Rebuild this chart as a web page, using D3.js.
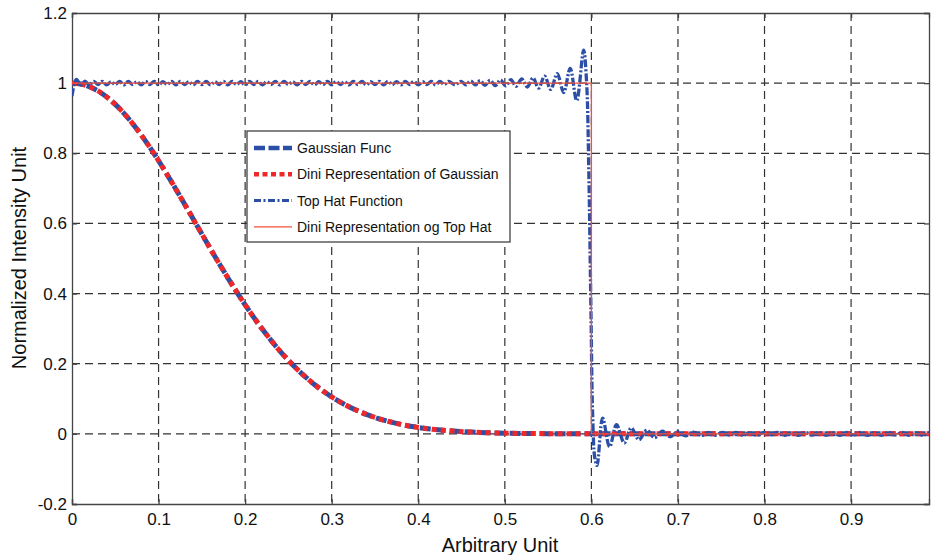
<!DOCTYPE html>
<html>
<head>
<meta charset="utf-8">
<script src="https://cdn.jsdelivr.net/npm/d3@7"></script>
<style>
  body { margin: 0; background: #fff; }
  text { font-family: "Liberation Sans", Arial, Helvetica, sans-serif; fill: #111; }
</style>
</head>
<body>
<div id="chart"></div>
<script>
// Gaussian (blue dashed + red dotted overlay)
let gaussX = [0, 0.01, 0.02, 0.03, 0.04, 0.05, 0.06, 0.07, 0.08, 0.09, 0.1, 0.11, 0.12, 0.13, 0.14, 0.15,
    0.16, 0.17, 0.18, 0.19, 0.2, 0.21, 0.22, 0.23, 0.24, 0.25, 0.26, 0.27, 0.28, 0.29, 0.3,
    0.32, 0.34, 0.36, 0.38, 0.4, 0.42, 0.44, 0.46, 0.48, 0.5, 0.55, 0.6, 0.7, 0.8, 0.9, 0.99];
let gaussY = [1, 0.9975, 0.99, 0.9778, 0.9608, 0.9394, 0.9139, 0.8847, 0.8521, 0.8167, 0.7788, 0.739,
    0.6977, 0.6554, 0.6126, 0.5698, 0.5273, 0.4855, 0.4449, 0.4056, 0.3679, 0.3321, 0.2982, 0.2665,
    0.2369, 0.2096, 0.1845, 0.1616, 0.1409, 0.1221, 0.1054, 0.0773, 0.0556, 0.0392, 0.0271, 0.0183,
    0.0122, 0.0079, 0.005, 0.0032, 0.0019, 0.0005, 0, 0, 0, 0, 0];
let diniGaussY = [1, 0.9975, 0.99, 0.9778, 0.9608, 0.9394, 0.9139, 0.8847, 0.8521, 0.8167, 0.7788, 0.739,
    0.6977, 0.6554, 0.6126, 0.5698, 0.5273, 0.4855, 0.4449, 0.4056, 0.3679, 0.3321, 0.2982, 0.2665,
    0.2369, 0.2096, 0.1845, 0.1616, 0.1409, 0.1221, 0.1054, 0.0773, 0.0556, 0.0392, 0.0271, 0.0183,
    0.0122, 0.0079, 0.005, 0.0032, 0.0019, 0.0005, 0, 0, 0, 0, 0];

// top hat function, with its ringing
let hatStartX = [0, 0.005, 0.0105];
let hatStartY = [0.963, 1.011, 0.995];
let hatFlatX = [0.015, 0.02, 0.025, 0.03, 0.035, 0.04, 0.045, 0.05, 0.055, 0.06, 0.065, 0.07, 0.075, 0.08,
    0.085, 0.09, 0.095, 0.1, 0.105, 0.11, 0.115, 0.12, 0.125, 0.13, 0.135, 0.14, 0.145, 0.15, 0.155, 0.16,
    0.165, 0.17, 0.175, 0.18, 0.185, 0.19, 0.195, 0.2, 0.205, 0.21, 0.215, 0.22, 0.225, 0.23, 0.235, 0.24,
    0.245, 0.25, 0.255, 0.26, 0.265, 0.27, 0.275, 0.28, 0.285, 0.29, 0.295, 0.3, 0.305, 0.31, 0.315, 0.32,
    0.325, 0.33, 0.335, 0.34, 0.345, 0.35, 0.355, 0.36, 0.365, 0.37, 0.375, 0.38, 0.385, 0.39, 0.395, 0.4,
    0.405, 0.41, 0.415, 0.42, 0.425, 0.43, 0.435];
let hatFlatY = [1.006, 0.995, 1.005, 0.996, 1.005, 0.995, 1.004, 0.996, 1.005, 0.995,
    1.005, 0.996, 1.004, 0.995, 1.005, 0.996, 1.005, 0.995, 1.004, 0.996,
    1.005, 0.995, 1.005, 0.996, 1.004, 0.995, 1.005, 0.996, 1.005, 0.995,
    1.004, 0.996, 1.005, 0.995, 1.005, 0.996, 1.004, 0.995, 1.005, 0.996,
    1.005, 0.995, 1.004, 0.996, 1.005, 0.995, 1.005, 0.996, 1.004, 0.995,
    1.005, 0.996, 1.005, 0.995, 1.004, 0.996, 1.005, 0.995, 1.005, 0.996,
    1.004, 0.995, 1.005, 0.996, 1.005, 0.995, 1.004, 0.996, 1.005, 0.995,
    1.005, 0.996, 1.004, 0.995, 1.005, 0.996, 1.005, 0.995, 1.004, 0.996,
    1.005, 0.995, 1.005, 0.996, 1.005];
let hatEdgeX = [0.4425, 0.4495, 0.455, 0.4605, 0.466, 0.4715, 0.477, 0.483, 0.489, 0.495, 0.501, 0.507,
    0.513, 0.5195, 0.526, 0.5325, 0.539, 0.546, 0.553, 0.5605, 0.568, 0.5755, 0.583, 0.591,
    0.5945, 0.597, 0.5995, 0.6015, 0.604, 0.6065];
let hatEdgeY = [0.995, 1.005, 0.995, 1.006, 0.995, 1.007, 0.994, 1.008, 0.993, 1.009, 0.992, 1.01,
    0.991, 1.012, 0.989, 1.015, 0.986, 1.02, 0.982, 1.027, 0.973, 1.042, 0.95, 1.094,
    1.0, 0.75, 0.35, 0.05, -0.07, -0.09];
let hatTailX = [0.613, 0.621, 0.629, 0.638, 0.646, 0.655, 0.664, 0.673, 0.682, 0.691, 0.7, 0.709, 0.718, 0.727,
    0.735, 0.743, 0.751, 0.759, 0.767, 0.775, 0.783, 0.791, 0.799, 0.807, 0.815, 0.823, 0.831, 0.839,
    0.847, 0.855, 0.863, 0.871, 0.879, 0.887, 0.895, 0.903, 0.911, 0.919, 0.927, 0.935, 0.943, 0.951,
    0.959, 0.967, 0.975, 0.983, 0.991];
let hatTailY = [0.045, -0.037, 0.026, -0.026, 0.017, -0.017, 0.011, -0.011, 0.008, -0.008, 0.006, -0.006, 0.005, -0.005,
    0.004, -0.004, 0.004, -0.003, 0.004, -0.004, 0.003, -0.004, 0.004, -0.003,
    0.004, -0.004, 0.003, -0.004, 0.004, -0.003, 0.004, -0.004, 0.003, -0.004,
    0.004, -0.003, 0.004, -0.004, 0.003, -0.004, 0.004, -0.003, 0.004, -0.004,
    0.003, -0.004, 0.004];

// Dini representation of the top hat (thin red)
let diniHatX = [0, 0.6, 0.6, 0.99];
let diniHatY = [1, 1, 0, 0];

let xTicks = [0, 0.1, 0.2, 0.3, 0.4, 0.5, 0.6, 0.7, 0.8, 0.9];
let yTicks = [-0.2, 0, 0.2, 0.4, 0.6, 0.8, 1, 1.2];
let legendNames = ["Gaussian Func", "Dini Representation of Gaussian", "Top Hat Function", "Dini Representation og Top Hat"];

let width = 934;
let height = 555;
let blue = "#2c4fa6";
let red = "#ee2828";

let x = d3.scaleLinear().domain([0, 0.99]).range([72, 929]);
let y = d3.scaleLinear().domain([-0.2, 1.2]).range([504, 13]);

let svg = d3.select("#chart").append("svg")
    .attr("width", width)
    .attr("height", height);

svg.append("clipPath").attr("id", "clip")
    .append("rect")
    .attr("x", x(0)).attr("y", y(1.2))
    .attr("width", x(0.99) - x(0)).attr("height", y(-0.2) - y(1.2));

// grid
let grid = svg.append("g");
grid.selectAll(".gx")
    .data(xTicks.filter(d => d > 0))
    .enter().append("line")
    .attr("x1", d => x(d)).attr("x2", d => x(d))
    .attr("y1", y(1.2)).attr("y2", y(-0.2))
    .attr("stroke", "#333").attr("stroke-width", 1.2)
    .attr("stroke-dasharray", "8,5");
grid.selectAll(".gy")
    .data(yTicks.filter(d => d > -0.2 && d < 1.2))
    .enter().append("line")
    .attr("x1", x(0)).attr("x2", x(0.99))
    .attr("y1", d => y(d)).attr("y2", d => y(d))
    .attr("stroke", "#333").attr("stroke-width", 1.2)
    .attr("stroke-dasharray", "8,5");

// axes
let fmt = d => String(d);
let xAxis = svg.append("g")
    .attr("transform", "translate(0," + y(-0.2) + ")")
    .call(d3.axisBottom(x).tickValues(xTicks).tickSize(-5).tickPadding(9).tickFormat(fmt));
let yAxis = svg.append("g")
    .attr("transform", "translate(" + x(0) + ",0)")
    .call(d3.axisLeft(y).tickValues(yTicks).tickSize(-5).tickPadding(5).tickFormat(fmt));
svg.append("g")
    .attr("transform", "translate(0," + y(1.2) + ")")
    .call(d3.axisTop(x).tickValues(xTicks).tickSize(-5).tickFormat(""));
svg.append("g")
    .attr("transform", "translate(" + x(0.99) + ",0)")
    .call(d3.axisRight(y).tickValues(yTicks).tickSize(-5).tickFormat(""));

svg.selectAll(".domain, .tick line").attr("stroke", "#444").attr("stroke-width", 1.3);
xAxis.selectAll("text").style("font-size", "17px").attr("fill", "#111");
yAxis.selectAll("text").style("font-size", "17px").attr("fill", "#111");

svg.append("text")
    .attr("x", 500).attr("y", 552)
    .attr("text-anchor", "middle")
    .style("font-size", "20px")
    .text("Arbitrary Unit");
svg.append("text")
    .attr("transform", "translate(26,258) rotate(-90)")
    .attr("text-anchor", "middle")
    .style("font-size", "20px")
    .text("Normalized Intensity Unit");

// curves
let line = d3.line()
    .x(d => x(d[0]))
    .y(d => y(d[1]))
    .curve(d3.curveMonotoneX);
let wavy = d3.line()
    .x(d => x(d[0]))
    .y(d => y(d[1]))
    .curve(d3.curveCatmullRom.alpha(0.5));
let straight = d3.line()
    .x(d => x(d[0]))
    .y(d => y(d[1]));

let hatX = hatStartX.concat(hatFlatX, hatEdgeX, hatTailX);
let hatY = hatStartY.concat(hatFlatY, hatEdgeY, hatTailY);

let plot = svg.append("g").attr("clip-path", "url(#clip)");

plot.append("path")
    .attr("d", line(gaussX.map((v, i) => [v, gaussY[i]])))
    .attr("fill", "none").attr("stroke", blue)
    .attr("stroke-width", 5).attr("stroke-dasharray", "11,4");
plot.append("path")
    .attr("d", line(gaussX.map((v, i) => [v, diniGaussY[i]])))
    .attr("fill", "none").attr("stroke", red)
    .attr("stroke-width", 5).attr("stroke-dasharray", "5,4");
plot.append("path")
    .attr("d", wavy(hatX.map((v, i) => [v, hatY[i]])))
    .attr("fill", "none").attr("stroke", blue)
    .attr("stroke-width", 3.3).attr("stroke-dasharray", "8,2,2,2");
plot.append("path")
    .attr("d", straight(diniHatX.map((v, i) => [v, diniHatY[i]])))
    .attr("fill", "none").attr("stroke", "#f2503c")
    .attr("stroke-width", 1.3);

// legend
let legend = svg.append("g").attr("transform", "translate(247,131)");
legend.append("rect")
    .attr("width", 263).attr("height", 111)
    .attr("fill", "#fff").attr("stroke", "#333").attr("stroke-width", 1.2);

let legendStyles = [
    {color: blue, w: 4.5, dash: "11,3.5"},
    {color: red, w: 4.5, dash: "5,3.5"},
    {color: blue, w: 3, dash: "7,2.5,2,2.5"},
    {color: "#f2503c", w: 1.3, dash: null}];

let legendG = legend.selectAll(".legend")
    .data(legendNames)
    .enter().append("g")
    .attr("transform", (d, i) => "translate(0," + (17 + i * 26.3) + ")");
legendG.append("line")
    .attr("x1", 7).attr("x2", 45)
    .attr("stroke", (d, i) => legendStyles[i].color)
    .attr("stroke-width", (d, i) => legendStyles[i].w)
    .attr("stroke-dasharray", (d, i) => legendStyles[i].dash);
legendG.append("text")
    .attr("x", 50).attr("dy", "0.35em")
    .style("font-size", "14px")
    .text(d => d);
</script>
</body>
</html>
